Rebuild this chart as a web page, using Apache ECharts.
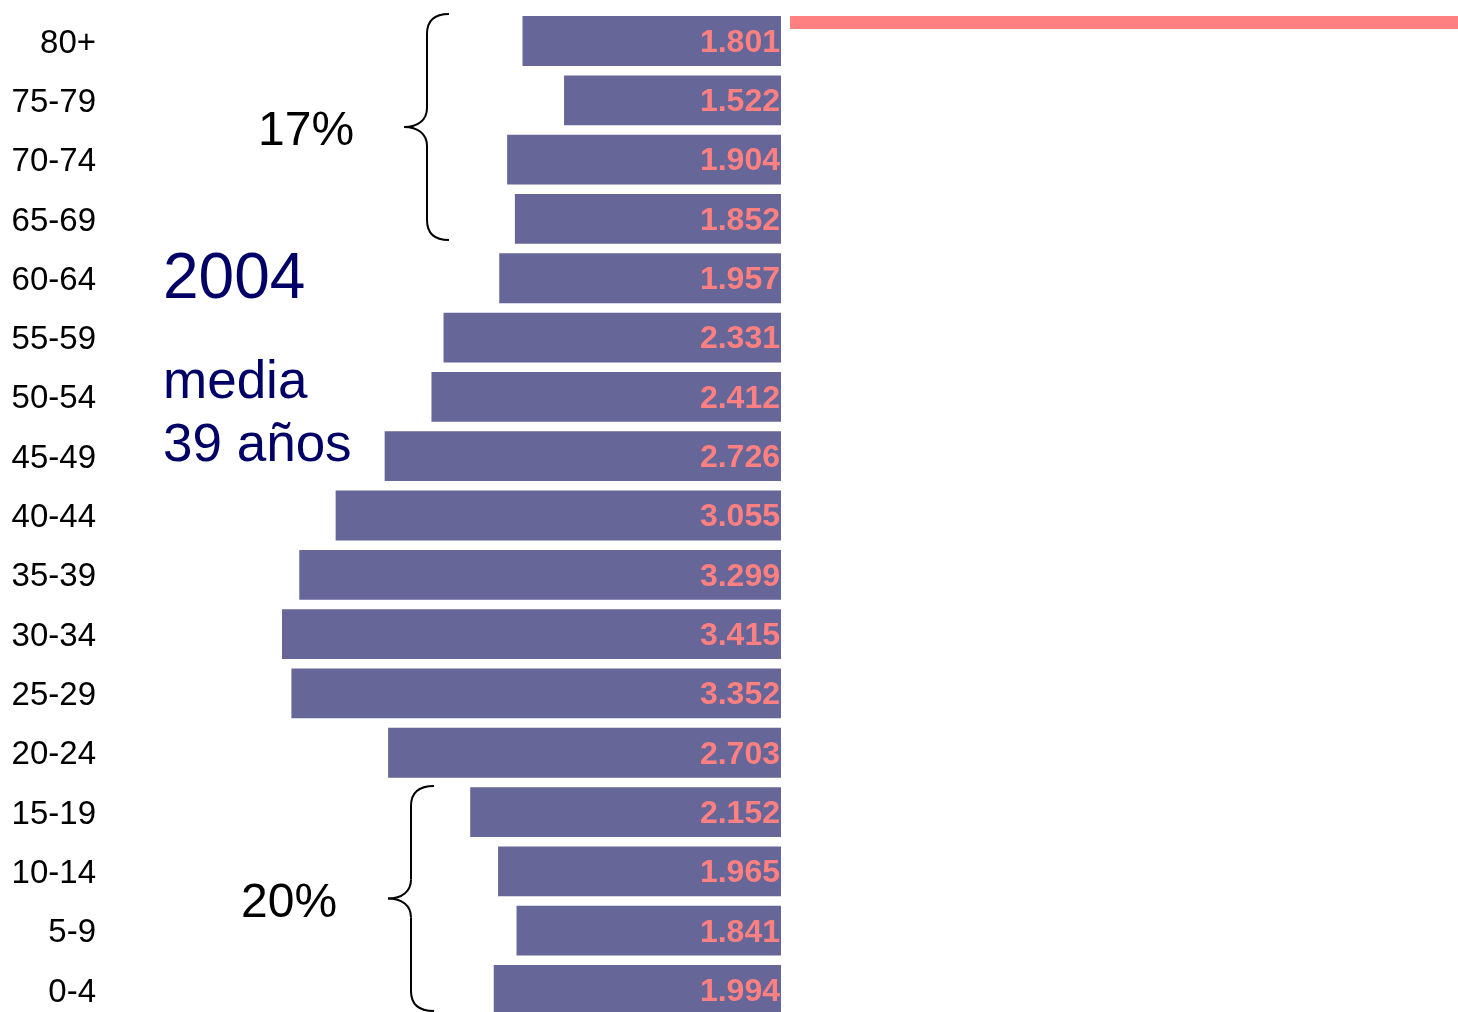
<!DOCTYPE html>
<html lang="es">
<head>
    <meta charset="utf-8">
    <title>Pirámide 2004</title>
    <style>
        html, body { margin: 0; padding: 0; background: #fff; }
        #main { width: 1458px; height: 1012px; }
    </style>
</head>
<body>
<div id="main"></div>
<script src="https://cdn.jsdelivr.net/npm/echarts@6/dist/echarts.min.js"></script>
<script type="text/javascript">
    // grupos de edad, de abajo arriba
    var ageGroups = ['0-4', '5-9', '10-14', '15-19', '20-24', '25-29', '30-34', '35-39',
        '40-44', '45-49', '50-54', '55-59', '60-64', '65-69', '70-74', '75-79', '80+'];
    // hombres (miles)
    var menValues = [1.994, 1.841, 1.965, 2.152, 2.703, 3.352, 3.415, 3.299,
        3.055, 2.726, 2.412, 2.331, 1.957, 1.852, 1.904, 1.522, 1.801];
    // barra del otro lado, cortada arriba
    var topBarValue = [1];

    var font = '"Liberation Sans", Arial, sans-serif';
    var myChart = echarts.init(document.getElementById('main'));

    // llave "{" : extremo derecho xr, tronco xs, pico xp, de y0 a y1
    function brace(xr, xs, xp, y0, y1) {
        var ym = (y0 + y1) / 2;
        var st = {fill: 'none', stroke: '#000', lineWidth: 2};
        return [
            {type: 'bezierCurve', shape: {x1: xr, y1: y0, x2: xs, y2: y0 + 20, cpx1: xr - 14, cpy1: y0, cpx2: xs, cpy2: y0 + 6}, style: st},
            {type: 'line', shape: {x1: xs, y1: y0 + 20, x2: xs, y2: ym - 19}, style: st},
            {type: 'bezierCurve', shape: {x1: xs, y1: ym - 19, x2: xp, y2: ym, cpx1: xs, cpy1: ym - 7, cpx2: xs - 9, cpy2: ym}, style: st},
            {type: 'bezierCurve', shape: {x1: xp, y1: ym, x2: xs, y2: ym + 19, cpx1: xs - 9, cpy1: ym, cpx2: xs, cpy2: ym + 7}, style: st},
            {type: 'line', shape: {x1: xs, y1: ym + 19, x2: xs, y2: y1 - 20}, style: st},
            {type: 'bezierCurve', shape: {x1: xs, y1: y1 - 20, x2: xr, y2: y1, cpx1: xs, cpy1: y1 - 6, cpx2: xr - 14, cpy2: y1}, style: st}
        ];
    }

    var option = {
        animation: false,
        grid: [
            {left: 105, right: 677, top: 11.35, height: 1008.3, outerBoundsMode: 'none', containLabel: false},
            {left: 790, right: 0, top: 16, height: 13, outerBoundsMode: 'none'}
        ],
        xAxis: [
            {gridIndex: 0, type: 'value', inverse: true, min: 0.066, max: 4.603, show: false},
            {gridIndex: 1, type: 'value', min: 0, max: 1, show: false}
        ],
        yAxis: [
            {
                gridIndex: 0, type: 'category', data: ageGroups,
                axisLine: {show: false}, axisTick: {show: false}, splitLine: {show: false},
                axisLabel: {
                    color: '#000', fontFamily: font, fontSize: 33, margin: 9,
                    verticalAlign: 'top', lineHeight: 5
                }
            },
            {gridIndex: 1, type: 'category', data: ['80+'], show: false}
        ],
        series: [
            {
                name: 'hombres',
                type: 'bar',
                xAxisIndex: 0, yAxisIndex: 0,
                data: menValues,
                barWidth: '84%',
                clip: true,
                itemStyle: {color: '#666699'},
                label: {
                    show: true,
                    position: 'insideRight',
                    distance: 1,
                    offset: [0, 2],
                    color: '#FF8080',
                    fontFamily: font,
                    fontWeight: 'bold',
                    fontSize: 32,
                    formatter: function (p) { return p.value.toFixed(3); }
                }
            },
            {
                name: 'mujeres',
                type: 'bar',
                xAxisIndex: 1, yAxisIndex: 1,
                data: topBarValue,
                barWidth: '100%',
                itemStyle: {color: '#FF8080'}
            }
        ],
        graphic: [
            {type: 'text', x: 258, y: 132, style: {text: '17%', fill: '#000', font: '48px ' + font, verticalAlign: 'middle'}},
            {type: 'text', x: 241, y: 904, style: {text: '20%', fill: '#000', font: '48px ' + font, verticalAlign: 'middle'}},
            {type: 'text', x: 163, y: 280, style: {text: '2004', fill: '#000066', font: '64px ' + font, verticalAlign: 'middle'}},
            {type: 'text', x: 163, y: 383, style: {text: 'media', fill: '#000066', font: '53px ' + font, verticalAlign: 'middle'}},
            {type: 'text', x: 163, y: 446, style: {text: '39 años', fill: '#000066', font: '53px ' + font, verticalAlign: 'middle'}}
        ].concat(brace(449, 427, 404, 14, 240), brace(434, 411, 388, 786, 1011))
    };
    myChart.setOption(option);
</script>
</body>
</html>
